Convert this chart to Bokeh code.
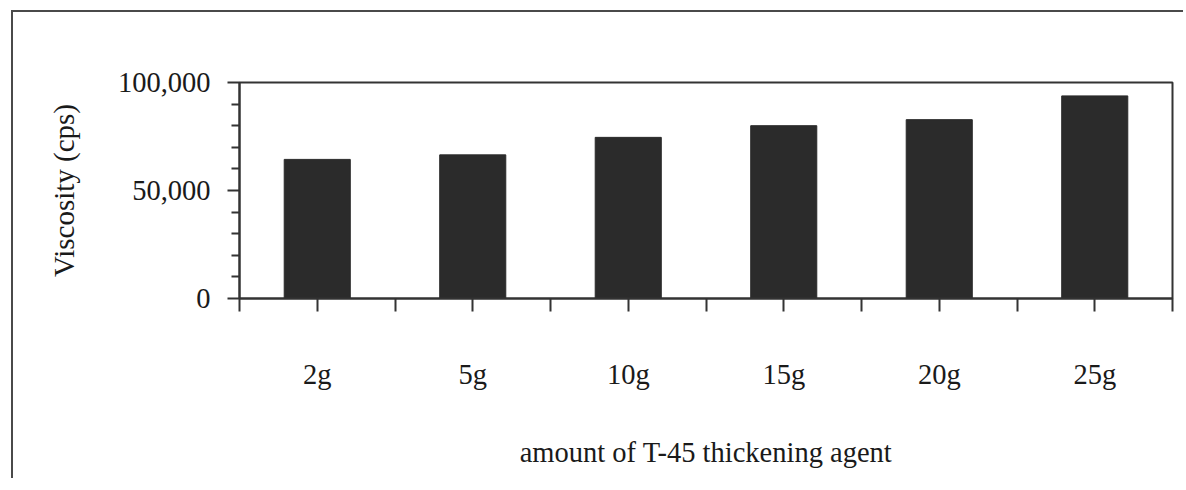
from bokeh.plotting import figure
from bokeh.models import FixedTicker, NumeralTickFormatter, Range1d
from bokeh.embed import file_html
from bokeh.resources import INLINE

categories = ["2g", "5g", "10g", "15g", "20g", "25g"]
viscosity = [64400, 66500, 74600, 80000, 82800, 93800]
y_major_ticks = [0, 50000, 100000]
y_minor_ticks = [10000, 20000, 30000, 40000, 60000, 70000, 80000, 90000]

FONT = "Liberation Serif"
INK = "#1a1a1a"
LINE = "#333333"

n = len(categories)
xs = [i + 0.5 for i in range(n)]

p = figure(width=1172, height=468, output_backend="svg", toolbar_location=None,
           x_range=Range1d(0, n), y_range=Range1d(0, 100000),
           min_border_left=226, min_border_top=70, min_border_right=13, min_border_bottom=182)
p.styles = {"border-left": "2px solid #4a4a4a", "border-top": "2px solid #4a4a4a",
            "margin-left": "11px", "margin-top": "10px"}

p.vbar(x=xs, top=viscosity, width=0.425, bottom=0, fill_color="#2b2b2b", line_color="#2b2b2b")

p.grid.visible = False
p.background_fill_color = "white"
p.border_fill_color = "white"
p.outline_line_color = LINE
p.outline_line_width = 2
p.outline_line_alpha = 1

# y axis
ya = p.yaxis[0]
ya.ticker = FixedTicker(ticks=y_major_ticks, minor_ticks=y_minor_ticks)
ya.formatter = NumeralTickFormatter(format="0,0")
ya.axis_label = "Viscosity (cps)"
ya.axis_label_text_font = FONT
ya.axis_label_text_font_size = "29px"
ya.axis_label_text_font_style = "normal"
ya.axis_label_text_color = INK
ya.axis_label_standoff = 35
ya.major_label_text_font = FONT
ya.major_label_text_font_size = "28.5px"
ya.major_label_text_color = INK
ya.major_label_standoff = 17
ya.major_tick_out = 12
ya.major_tick_in = 0
ya.minor_tick_out = 8
ya.minor_tick_in = 0
ya.axis_line_width = 2
ya.axis_line_color = LINE
ya.major_tick_line_width = 2
ya.major_tick_line_color = LINE
ya.minor_tick_line_width = 2
ya.minor_tick_line_color = LINE

# x axis
xa = p.xaxis[0]
x_tick_positions = [i * 0.5 for i in range(2 * n + 1)]
xa.ticker = FixedTicker(ticks=x_tick_positions, minor_ticks=[])
xa.major_label_overrides = {t: (categories[int(t)] if (t * 2) % 2 == 1 else "") for t in x_tick_positions}
xa.axis_label = "amount of T-45 thickening agent"
xa.axis_label_text_font = FONT
xa.axis_label_text_font_size = "28.5px"
xa.axis_label_text_font_style = "normal"
xa.axis_label_text_color = INK
xa.axis_label_standoff = 44
xa.major_label_text_font = FONT
xa.major_label_text_font_size = "28.5px"
xa.major_label_text_color = INK
xa.major_label_standoff = 47
xa.major_tick_out = 13
xa.major_tick_in = 0
xa.minor_tick_out = 0
xa.minor_tick_in = 0
xa.axis_line_width = 2
xa.axis_line_color = LINE
xa.major_tick_line_width = 2
xa.major_tick_line_color = LINE

open("out.html", "w").write(file_html(p, INLINE))
